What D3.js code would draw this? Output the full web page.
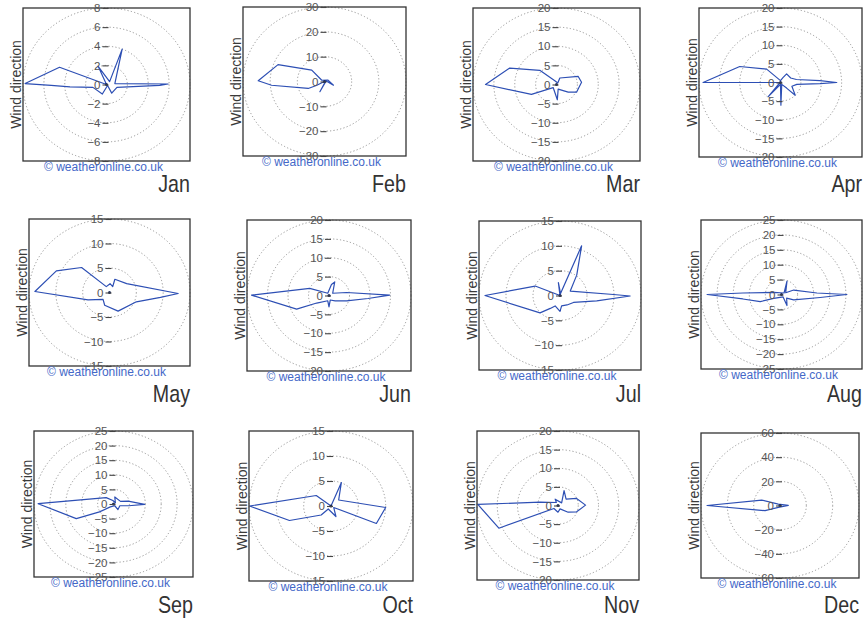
<!DOCTYPE html>
<html><head><meta charset="utf-8">
<script src="https://cdnjs.cloudflare.com/ajax/libs/d3/7.8.5/d3.min.js"></script>
<style>body{margin:0;background:#fff}svg{display:block}</style>
</head><body>
<svg id="c" width="868" height="624"></svg>
<script>
// ---- data ----
const months = ["Jan","Feb","Mar","Apr","May","Jun","Jul","Aug","Sep","Oct","Nov","Dec"];
const maxR   = [8,30,20,20,15,20,15,25,25,15,20,60];
const tickStep = [2,10,5,5,5,5,5,5,5,5,5,20];
const axisTitle = "Wind direction";
const credit = "© weatheronline.co.uk";

// wind direction frequency traces: [east component, north component]
const windJan = [[5.9,0.05],[0.8,0.1],[1.5,3.7],[0.3,0.3],[-0.8,1.9],[0,0],[-4.5,1.8],[-7.8,0.1],[-5.3,-0.1],[-3.5,-0.25],[-1.3,-0.3],[-0.4,-1.0],[0.1,-0.1],[0.5,-0.9],[1,-0.3],[5.1,-0.1]];
const windFeb = [[3.3,-1.5],[1.2,0.6],[-1,0.5],[-4.7,4.6],[-17.1,6.8],[-24.4,0.3],[-19.5,-1.5],[-6,-2.8],[-3,-1.6],[0.5,0.3],[-1.7,-4.1],[0.6,0.2]];
const windMar = [[6,0.6],[5.2,2.1],[0.8,1.7],[0.3,0.4],[-0.4,1],[-4,3.7],[-11.2,4.3],[-17,0],[-6,-2.6],[-0.8,-0.8],[0.2,-4],[0.4,-1.2],[2.8,-2],[4.8,-2]];
const windApr = [[13.8,0],[9.7,0.5],[3.9,0.8],[2.5,1.2],[1.5,2.3],[0.6,1.3],[0,0.5],[-3.4,3.6],[-10,4.3],[-19,0],[-0.1,0],[-3,-3.8],[0,-0.5],[0.1,-6.1],[0.3,-0.5],[1.5,-1.5],[3.6,-3.4],[2.8,-1],[4,-0.5],[9.7,-0.3]];
const windMay = [[12.8,-0.2],[3.2,1.8],[1,2.7],[0.6,1.2],[0.1,1.8],[-0.6,1.2],[-5.2,5.1],[-9.9,4.4],[-13.9,0.2],[-4,-1.5],[-1.2,-1.4],[-0.9,-2.6],[1.6,-3.8],[5,-1.9],[9.5,-1]];
const windJun = [[14.8,0.1],[4.3,0.8],[0.9,0.6],[1.4,3.6],[0.6,2.9],[-0.3,0.6],[-4.7,1.9],[-18.9,0.1],[-7.9,-3.6],[-3,-2],[-0.3,-1.4],[0,-3],[0.3,-1.2],[1.5,-1.4],[4.3,-1.4],[9.5,-0.8]];
const windJul = [[13,-0.1],[9.9,0.2],[1.9,0.9],[3.1,4.1],[4,10],[0.1,0.4],[-0.3,2.6],[0,0],[-4.6,1.9],[-13.9,0],[-3.7,-3.5],[-1.8,-2.6],[-0.9,-2.1],[0,-3.2],[0.3,-2.1],[1.3,-1.9],[2.5,-1.4],[6.8,-1.1]];
const windAug = [[20.3,0],[11,0.5],[3.8,1.5],[1.3,0.6],[1.7,4.5],[0.8,0.5],[-2.4,0.7],[-12,0.5],[-23.1,0],[-12,-1.5],[-6.6,-2.4],[-2.4,-1.3],[0.5,-0.8],[1.7,-3.7],[1.6,-1.2],[3.8,-1.8],[12,-1]];
const windSep = [[9.8,-0.1],[4.6,1],[2.2,0.9],[0.4,2.4],[0.6,0.4],[-0.2,1.2],[-2.3,2.2],[-23.7,0.1],[-11.7,-5],[-4.4,-2.7],[-1,-1],[0.4,-0.6],[1.4,-1.9],[2,-0.6],[4.8,-0.6]];
const windOct = [[10,-0.3],[1.4,1.2],[1.9,4.7],[0,0],[-2.7,2.1],[-14.9,0],[-7.6,-2.9],[-1.8,-1.8],[-0.5,-0.6],[0.9,-2.1],[0.5,-0.3],[8.3,-3.5]];
const windNov = [[6.8,0.1],[4.6,1.9],[2,1.7],[1.5,4],[0.9,0.7],[-0.7,1.7],[-0.4,0.8],[-4.4,0.9],[-19.8,0.3],[-14.6,-6.1],[-1,-0.8],[0,-1.8],[0.5,-0.9],[2.5,-1.8],[4.6,-1.7]];
const windDec = [[6.3,0.1],[-1.3,1.2],[-13.9,4.5],[-55.4,0],[-11.3,-4.3],[-1.3,-1.5]];
const series = [windJan,windFeb,windMar,windApr,windMay,windJun,windJul,windAug,windSep,windOct,windNov,windDec];

// ---- layout (plot frames: left, right, top, bottom) ----
const frames = [
  [23,190,8,161],[243,406,7,156],[473,640,8,161],[699,862,8,157],
  [29,190,219,366],[247,411,220,371],[479,641,221,370],[701,862,220,369],
  [34,193,431,577],[249,413,431,581],[477,639,431,580],[701,859,433,578]
];
const labelBase = [192,402,613];

const svg = d3.select("#c");
const lineColor = "#2d4fb4";

months.forEach((m,i)=>{
  const [x0,x1,y0,y1] = frames[i];
  const R = maxR[i], st = tickStep[i];
  const x = d3.scaleLinear().domain([-R,R]).range([x0,x1]);
  const y = d3.scaleLinear().domain([-R,R]).range([y1,y0]);
  const g = svg.append("g");
  const cx = x(0), cy = y(0);

  // grid circles
  const rings = d3.range(st, R+st/2, st);
  g.selectAll("ellipse.ring").data(rings).join("ellipse")
    .attr("cx",cx).attr("cy",cy)
    .attr("rx",d=>x(d)-cx).attr("ry",d=>cy-y(d))
    .attr("fill","none").attr("stroke","#8a8a8a").attr("stroke-width",0.9)
    .attr("stroke-dasharray","1.2,2.2");

  // trace
  const line = d3.line().x(d=>x(d[0])).y(d=>y(d[1])).curve(d3.curveLinearClosed);
  g.append("path").datum(series[i]).attr("d",line)
    .attr("fill","none").attr("stroke",lineColor).attr("stroke-width",1.2)
    .attr("stroke-linejoin","round");
  g.append("circle").attr("cx",cx).attr("cy",cy).attr("r",1.5).attr("fill","#1a2a5a");

  // frame
  g.append("rect").attr("x",x0).attr("y",y0).attr("width",x1-x0).attr("height",y1-y0)
    .attr("fill","none").attr("stroke","#333").attr("stroke-width",1.3);

  // radial tick labels
  const ticks = d3.range(-R, R+st/2, st);
  const ax = g.append("g").attr("transform",`translate(${cx+2},0)`)
    .call(d3.axisLeft(y).tickValues(ticks).tickSize(6).tickPadding(2).tickFormat(d3.format("d")));
  ax.select(".domain").remove();
  ax.selectAll(".tick line").attr("stroke","#444").attr("stroke-width",1.1);
  ax.selectAll(".tick text").attr("fill","#555").attr("font-size",11.5)
    .attr("font-family","'Liberation Sans', Arial, sans-serif");

  // axis title
  g.append("text").attr("transform",`translate(${x0-2},${(y0+y1)/2}) rotate(-90)`)
    .attr("text-anchor","middle").attr("font-size",14).attr("fill","#3a3a3a")
    .attr("font-family","'Liberation Sans', Arial, sans-serif").text(axisTitle);

  // credit
  g.append("text").attr("x",(x0+x1)/2-3).attr("y",y1+10)
    .attr("text-anchor","middle").attr("font-size",12).attr("fill","#4468c8")
    .attr("font-family","'Liberation Sans', Arial, sans-serif").text(credit);

  // month label (condensed)
  g.append("text").attr("transform",`translate(${x1},${labelBase[Math.floor(i/4)]}) scale(0.82,1)`)
    .attr("text-anchor","end").attr("font-size",24).attr("fill","#333")
    .attr("font-family","'Liberation Sans', Arial, sans-serif").text(m);
});
</script>
</body></html>
